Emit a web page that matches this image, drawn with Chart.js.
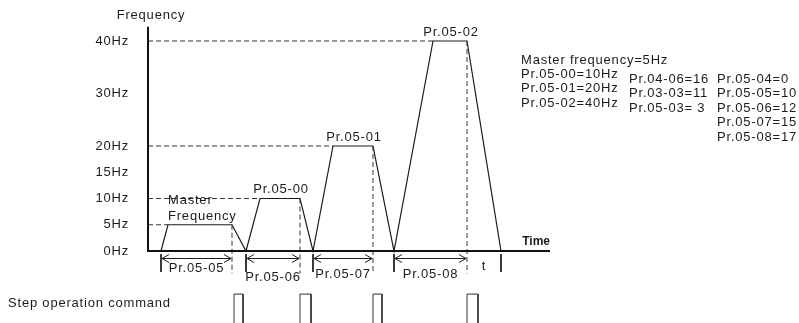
<!DOCTYPE html>
<html>
<head>
<meta charset="utf-8">
<script src="https://cdn.jsdelivr.net/npm/chart.js@4/dist/chart.umd.min.js"></script>
<style>
  html, body { margin: 0; padding: 0; background: #fff; }
  #wrap { width: 799px; height: 323px; }
</style>
</head>
<body>
<div id="wrap"><canvas id="stepChart"></canvas></div>
<script>
// frequency axis ticks (Hz)
const yTicks = [0, 5, 10, 15, 20, 30, 40];

// output frequency vs time (time in arbitrary units)
const waveTime = [1.3, 2.0, 8.4, 9.8, 11.2, 15.2, 16.5, 18.5, 22.5, 24.6, 28.5, 31.9, 35.3];
const waveFreq = [0, 5, 5, 0, 10, 10, 0, 20, 20, 0, 40, 40, 0];

// plateaus: master freq, Pr.05-00, Pr.05-01, Pr.05-02
const levels = [5, 10, 20, 40];
const riseEnd = [2.0, 11.2, 18.5, 28.5];
const holdEnd = [8.4, 15.2, 22.5, 31.9];
const levelLabels = [['Master', 'Frequency'], ['Pr.05-00'], ['Pr.05-01'], ['Pr.05-02']];

// timing spans below the time axis
const spanStart = [1.3, 9.8, 16.5, 24.6, 31.9];
const spanEnd = [8.4, 15.2, 22.5, 31.9, 35.3];
const spanLabels = ['Pr.05-05', 'Pr.05-06', 'Pr.05-07', 'Pr.05-08', 't'];
const spanArrows = [true, true, true, true, false];
const tickTimes = [1.3, 9.8, 16.5, 24.6, 35.3];

// step operation command pulses
const pulseStart = [8.6, 15.2, 22.5, 31.9];
const pulseEnd = [9.5, 16.3, 23.4, 33.0];
const pulseTop = -8.2;

// axis extents
const freqAxisTop = 42.7;
const timeAxisEnd = 40.2;

// parameter notes
const noteCol1 = ['Master frequency=5Hz', 'Pr.05-00=10Hz', 'Pr.05-01=20Hz', 'Pr.05-02=40Hz'];
const noteCol2 = ['Pr.04-06=16', 'Pr.03-03=11', 'Pr.05-03= 3'];
const noteCol3 = ['Pr.05-04=0', 'Pr.05-05=10', 'Pr.05-06=12', 'Pr.05-07=15', 'Pr.05-08=17'];

const INK = '#1c1c1c';
const FAMILY = '"Liberation Sans", Arial, sans-serif';
const FONT = '13px ' + FAMILY;

const pts = (xs, ys) => xs.map((x, i) => ({ x, y: ys[i] }));

function guideLines() {
    const d = [];
    levels.forEach((lv, i) => {
        d.push({ x: 0, y: lv }, { x: riseEnd[i], y: lv }, { x: riseEnd[i], y: null });
        d.push({ x: holdEnd[i], y: lv }, { x: holdEnd[i], y: -4.3 }, { x: holdEnd[i], y: null });
    });
    return d;
}

function tickLines() {
    const d = [];
    tickTimes.forEach((t) => d.push({ x: t, y: -0.6 }, { x: t, y: -4.0 }, { x: t, y: null }));
    return d;
}

function pulseLines() {
    const d = [];
    pulseStart.forEach((s, i) => {
        d.push({ x: s, y: -16 }, { x: s, y: pulseTop }, { x: pulseEnd[i], y: pulseTop },
            { x: pulseEnd[i], y: -16 }, { x: pulseEnd[i], y: null });
    });
    return d;
}

const spacing = {
    id: 'spacing',
    beforeDraw(chart) { chart.ctx.letterSpacing = '0.8px'; },
};

const annotations = {
    id: 'annotations',
    afterDatasetsDraw(chart) {
        const { ctx, scales: { x, y } } = chart;
        ctx.save();
        ctx.letterSpacing = '0.8px';
        ctx.font = FONT;
        ctx.fillStyle = INK;
        ctx.strokeStyle = INK;
        ctx.lineWidth = 1;
        const base = y.getPixelForValue(0);

        // axis captions
        ctx.textAlign = 'center';
        ctx.textBaseline = 'middle';
        ctx.fillText('Frequency', x.getPixelForValue(0) + 3, 15);
        ctx.font = 'bold 12px ' + FAMILY;
        ctx.letterSpacing = '0px';
        ctx.textAlign = 'right';
        ctx.fillText('Time', x.getPixelForValue(timeAxisEnd), base - 9);
        ctx.font = FONT;
        ctx.letterSpacing = '0.8px';

        // plateau labels
        levelLabels.forEach((lines, i) => {
            const py = y.getPixelForValue(levels[i]);
            if (lines.length > 1) {
                ctx.textAlign = 'left';
                ctx.fillText(lines[0], x.getPixelForValue(riseEnd[i]), py - 24);
                ctx.fillText(lines[1], x.getPixelForValue(riseEnd[i]), py - 8);
            } else {
                ctx.textAlign = 'center';
                const cx = x.getPixelForValue((riseEnd[i] + holdEnd[i]) / 2);
                ctx.fillText(lines[0], cx + 1, py - 9);
            }
        });

        // timing spans
        const labelDrop = [17, 26, 23, 23, 15];
        const ay = Math.round(base + 7) + 0.5;
        spanLabels.forEach((lab, i) => {
            const x1 = x.getPixelForValue(spanStart[i]);
            const x2 = x.getPixelForValue(spanEnd[i]);
            if (spanArrows[i]) {
                ctx.beginPath();
                ctx.moveTo(x1 + 1, ay);
                ctx.lineTo(x2 - 1, ay);
                ctx.moveTo(x1 + 8, ay - 4);
                ctx.lineTo(x1 + 1, ay);
                ctx.lineTo(x1 + 8, ay + 4);
                ctx.moveTo(x2 - 8, ay - 4);
                ctx.lineTo(x2 - 1, ay);
                ctx.lineTo(x2 - 8, ay + 4);
                ctx.stroke();
            }
            ctx.textAlign = 'center';
            ctx.fillText(lab, (x1 + x2) / 2, base + labelDrop[i]);
        });

        // command row
        ctx.textAlign = 'left';
        ctx.fillText('Step operation command', 8, 303);

        // parameter notes
        noteCol1.forEach((t, i) => ctx.fillText(t, 521, 60 + i * 14.4));
        noteCol2.forEach((t, i) => ctx.fillText(t, 629, 79.5 + i * 14.4));
        noteCol3.forEach((t, i) => ctx.fillText(t, 717, 79.5 + i * 14.4));
        ctx.restore();
    },
};

new Chart(document.getElementById('stepChart'), {
    type: 'line',
    data: {
        datasets: [
            {
                data: pts([0, 0, timeAxisEnd], [freqAxisTop, 0, 0]),
                borderColor: '#111', borderWidth: 2,
            },
            {
                data: guideLines(),
                borderColor: '#333', borderWidth: 1, borderDash: [5, 3],
            },
            {
                data: pts(waveTime, waveFreq),
                borderColor: INK, borderWidth: 1.2,
            },
            {
                data: tickLines(),
                borderColor: INK, borderWidth: 1,
            },
            {
                data: pulseLines(),
                borderColor: '#333', borderWidth: 1,
            },
        ],
    },
    options: {
        responsive: true,
        maintainAspectRatio: false,
        animation: false,
        devicePixelRatio: 1,
        layout: { padding: 0 },
        elements: { point: { radius: 0 }, line: { tension: 0 } },
        datasets: { line: { clip: 4, spanGaps: false } },
        plugins: { legend: { display: false }, tooltip: { enabled: false } },
        scales: {
            x: { type: 'linear', display: false, min: 0, max: 65.1 },
            y: {
                type: 'linear',
                min: -13.71,
                max: 47.81,
                grid: { display: false },
                border: { display: false },
                afterBuildTicks: (s) => { s.ticks = yTicks.map((v) => ({ value: v })); },
                afterFit: (s) => { s.width = 148; s.paddingTop = 0; s.paddingBottom = 0; },
                ticks: {
                    padding: 11,
                    color: INK,
                    font: { family: FAMILY, size: 13 },
                    callback: (v) => v + 'Hz',
                },
            },
        },
    },
    plugins: [spacing, annotations],
});
</script>
</body>
</html>
